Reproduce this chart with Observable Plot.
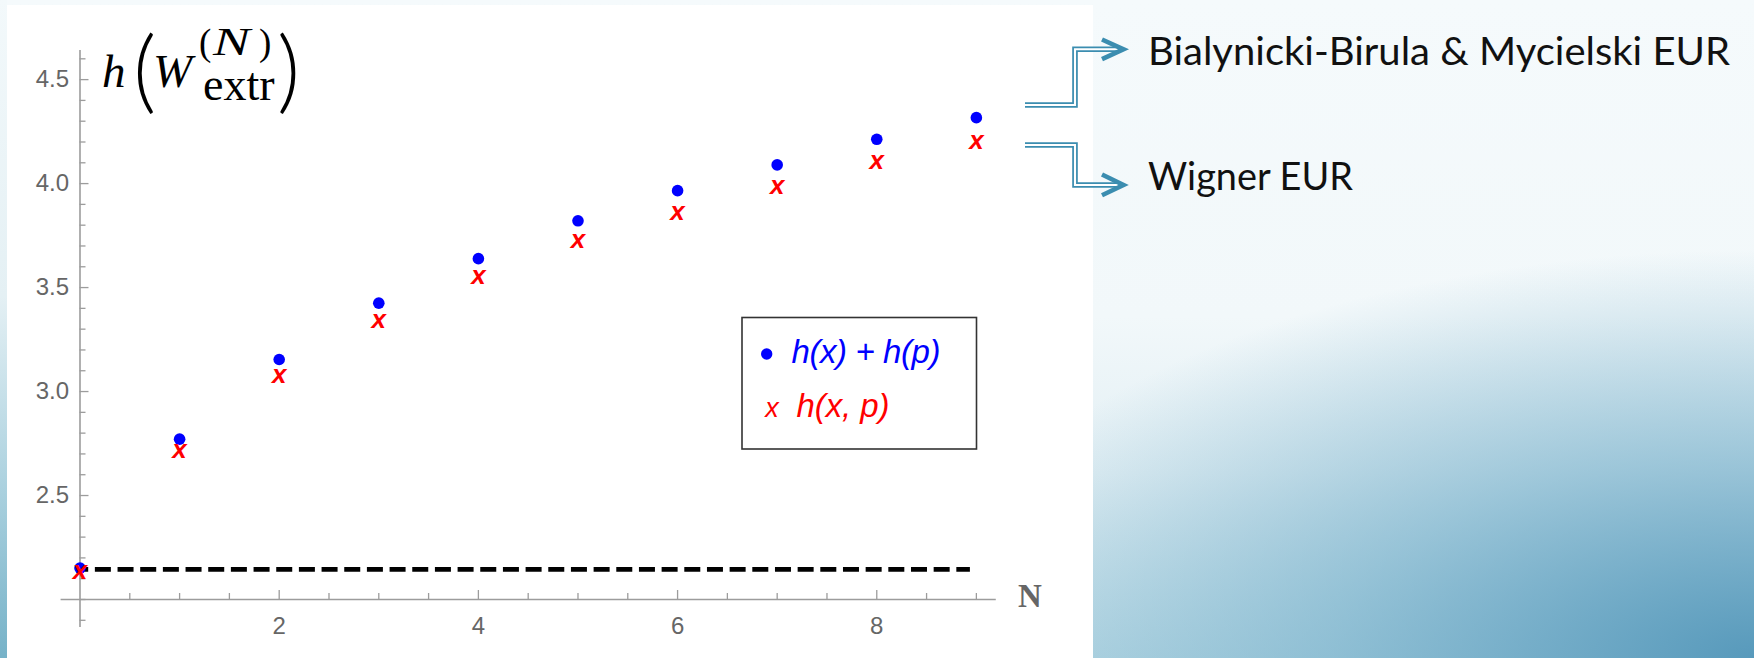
<!DOCTYPE html>
<html>
<head>
<meta charset="utf-8">
<script src="https://cdn.jsdelivr.net/npm/d3@7"></script>
<script src="https://cdn.jsdelivr.net/npm/@observablehq/plot@0.6"></script>
<style>
  html, body { margin: 0; padding: 0; }
  #page {
    position: relative; width: 1754px; height: 658px; overflow: hidden;
    background:
      radial-gradient(ellipse 48% 62% at 100% 100%, rgba(82,150,185,0.95) 0%, rgba(112,172,200,0.6) 50%, rgba(210,230,238,0) 100%),
      linear-gradient(to bottom, #f5fafc 0%, #f2f8fa 48%, #e2eff4 72%, #bcdbe6 100%);
  }
  #strip { position: absolute; left: 0; top: 0; width: 7px; height: 658px;
    background: linear-gradient(to bottom, #f3f9fb 0%, #e4f0f4 45%, #a9d0de 75%, #76b2c8 100%); }
  #panel { position: absolute; left: 7px; top: 5px; width: 1086px; height: 653px; background: #ffffff; }
  #chart { position: absolute; left: 0; top: 0; }
  svg.overlay { position: absolute; left: 0; top: 0; }
</style>
</head>
<body>
<div id="page">
  <div id="strip"></div>
  <div id="panel"></div>
  <div id="chart"></div>
  <svg class="overlay" width="1754" height="658" xmlns="http://www.w3.org/2000/svg">
    <!-- title h(W^(N)_extr) as one text -->
    <text font-family="'Liberation Serif','Times New Roman',serif" fill="#000"><tspan x="102" y="87" font-size="47" font-style="italic">h</tspan><tspan x="133" y="102" font-size="90" font-family="Lato, 'DejaVu Sans', sans-serif" font-weight="300">(</tspan><tspan x="153" y="87" font-size="47" font-style="italic">W</tspan><tspan x="199" y="55" font-size="37">(</tspan><tspan x="213" y="55" font-size="41" font-style="italic" textLength="37" lengthAdjust="spacingAndGlyphs">N</tspan><tspan x="259" y="55" font-size="37">)</tspan><tspan x="203" y="100" font-size="46">extr</tspan><tspan x="277" y="102" font-size="90" font-family="Lato, 'DejaVu Sans', sans-serif" font-weight="300">)</tspan></text>
    <!-- x axis label -->
    <text x="1018" y="607" font-family="'Liberation Serif','Times New Roman',serif" font-weight="bold" font-size="33" fill="#666">N</text>
    <!-- legend -->
    <rect x="742" y="317.5" width="234.5" height="131.5" fill="#fff" stroke="#333" stroke-width="1.6"/>
    <g font-family="'Liberation Sans', Arial, sans-serif" font-style="italic">
      <circle cx="766.7" cy="354" r="5.7" fill="#0000ff"/>
      <text x="791.5" y="363" font-size="33" fill="#0000ff" textLength="149" lengthAdjust="spacing">h(x) + h(p)</text>
      <text x="772" y="416.5" font-size="27" fill="#ff0000" text-anchor="middle">x</text>
      <text x="796.5" y="416.5" font-size="33" fill="#ff0000" textLength="93" lengthAdjust="spacing">h(x, p)</text>
    </g>
    <!-- annotation arrows -->
    <g fill="none" stroke-linejoin="miter">
      <path d="M1025,105 H1075 V49.3 H1121" stroke="#3b8db0" stroke-width="5.6"/>
      <path d="M1025,105 H1075 V49.3 H1121" stroke="#ffffff" stroke-width="2.1"/>
      <polyline points="1102,39.5 1123.5,49.3 1102,59.2" stroke="#3b8db0" stroke-width="4.6"/>
      <path d="M1025,145 H1075 V185 H1121" stroke="#3b8db0" stroke-width="5.6"/>
      <path d="M1025,145 H1075 V185 H1121" stroke="#ffffff" stroke-width="2.1"/>
      <polyline points="1102,174.5 1123.5,185 1102,195.3" stroke="#3b8db0" stroke-width="4.6"/>
    </g>
    <g font-family="Lato, 'Open Sans', 'Liberation Sans', sans-serif" font-weight="400" fill="#111" font-size="38">
      <text x="1148" y="65" textLength="582" lengthAdjust="spacingAndGlyphs">Bialynicki-Birula &amp; Mycielski EUR</text>
      <text x="1148" y="190" textLength="205" lengthAdjust="spacingAndGlyphs">Wigner EUR</text>
    </g>
  </svg>
</div>
<script>
// N (number of excitations)
const N = [0, 1, 2, 3, 4, 5, 6, 7, 8, 9];
// h(x) + h(p)  (blue dots)
const hSum = [2.151, 2.771, 3.154, 3.425, 3.639, 3.821, 3.966, 4.090, 4.213, 4.317];
// h(x, p)  (red x)
const hJoint = [2.130, 2.712, 3.074, 3.337, 3.548, 3.721, 3.859, 3.984, 4.101, 4.197];
// lower bound 1 + ln(pi) (dashed line) and its N extent
const boundValue = [2.1447];
const boundN = [0, 8.94];
// axes
const yMajorTicks = [2.5, 3.0, 3.5, 4.0, 4.5];
const yMinorTicks = [1.9, 2.0, 2.1, 2.2, 2.3, 2.4, 2.6, 2.7, 2.8, 2.9, 3.1, 3.2, 3.3, 3.4, 3.6, 3.7, 3.8, 3.9, 4.1, 4.2, 4.3, 4.4, 4.6];
const xMajorTicks = [2, 4, 6, 8];
const xMinorTicks = [0.5, 1, 1.5, 2.5, 3, 3.5, 4.5, 5, 5.5, 6.5, 7, 7.5, 8.5, 9];
const xDomain = [0, 9.18];
const yDomain = [2.0, 4.64];
const xAxisExtent = [-0.19, 9.2];
const yAxisExtent = [1.865, 4.64];

const rows = N.map((n, i) => ({n, sum: hSum[i], joint: hJoint[i]}));

const axisGray = "#9c9c9c";
const chart = Plot.plot({
  width: 1100,
  height: 658,
  marginLeft: 79.5,
  marginRight: 106.2,
  marginTop: 50,
  marginBottom: 59,
  style: {background: "transparent", fontFamily: "'Liberation Sans', Arial, sans-serif", overflow: "visible"},
  x: {domain: xDomain, axis: null},
  y: {domain: yDomain, axis: null},
  marks: [
    // axis lines
    Plot.ruleX([0], {y1: yAxisExtent[0], y2: yAxisExtent[1], stroke: axisGray, strokeWidth: 1.6}),
    Plot.ruleY([2.0], {x1: xAxisExtent[0], x2: xAxisExtent[1], stroke: axisGray, strokeWidth: 1.6}),
    // inward ticks
    Plot.ruleY(yMinorTicks, {y: d => d, x1: 0, x2: 0, insetRight: -6, stroke: axisGray, strokeWidth: 1.3}),
    Plot.ruleY(yMajorTicks, {y: d => d, x1: 0, x2: 0, insetRight: -9, stroke: axisGray, strokeWidth: 1.3}),
    Plot.ruleX(xMinorTicks, {x: d => d, y1: 2.0, y2: 2.0, insetTop: -6, stroke: axisGray, strokeWidth: 1.3}),
    Plot.ruleX(xMajorTicks, {x: d => d, y1: 2.0, y2: 2.0, insetTop: -9, stroke: axisGray, strokeWidth: 1.3}),
    // tick labels
    Plot.axisY({ticks: yMajorTicks, tickSize: 0, tickPadding: 11, tickFormat: d => d.toFixed(1), fontSize: 24, fill: "#666", label: null}),
    Plot.axisX({ticks: xMajorTicks, tickSize: 0, tickPadding: 17, tickFormat: d => String(d), fontSize: 24, fill: "#666", label: null}),
    // dashed bound
    Plot.ruleY(boundValue, {y: d => d, x1: boundN[0], x2: boundN[1], stroke: "#000", strokeWidth: 4.6, strokeDasharray: "16,6.67", strokeDashoffset: 7.3}),
    // data
    Plot.dot(rows, {x: "n", y: "sum", r: 5.8, fill: "#0000ff", stroke: null}),
    Plot.text(rows, {x: "n", y: "joint", text: () => "x", fill: "#ff0000", fontSize: 26, fontWeight: "bold", fontStyle: "italic", fontFamily: "'Liberation Sans', Arial, sans-serif", dy: -1.5})
  ]
});
document.getElementById("chart").appendChild(chart);
</script>
</body>
</html>
